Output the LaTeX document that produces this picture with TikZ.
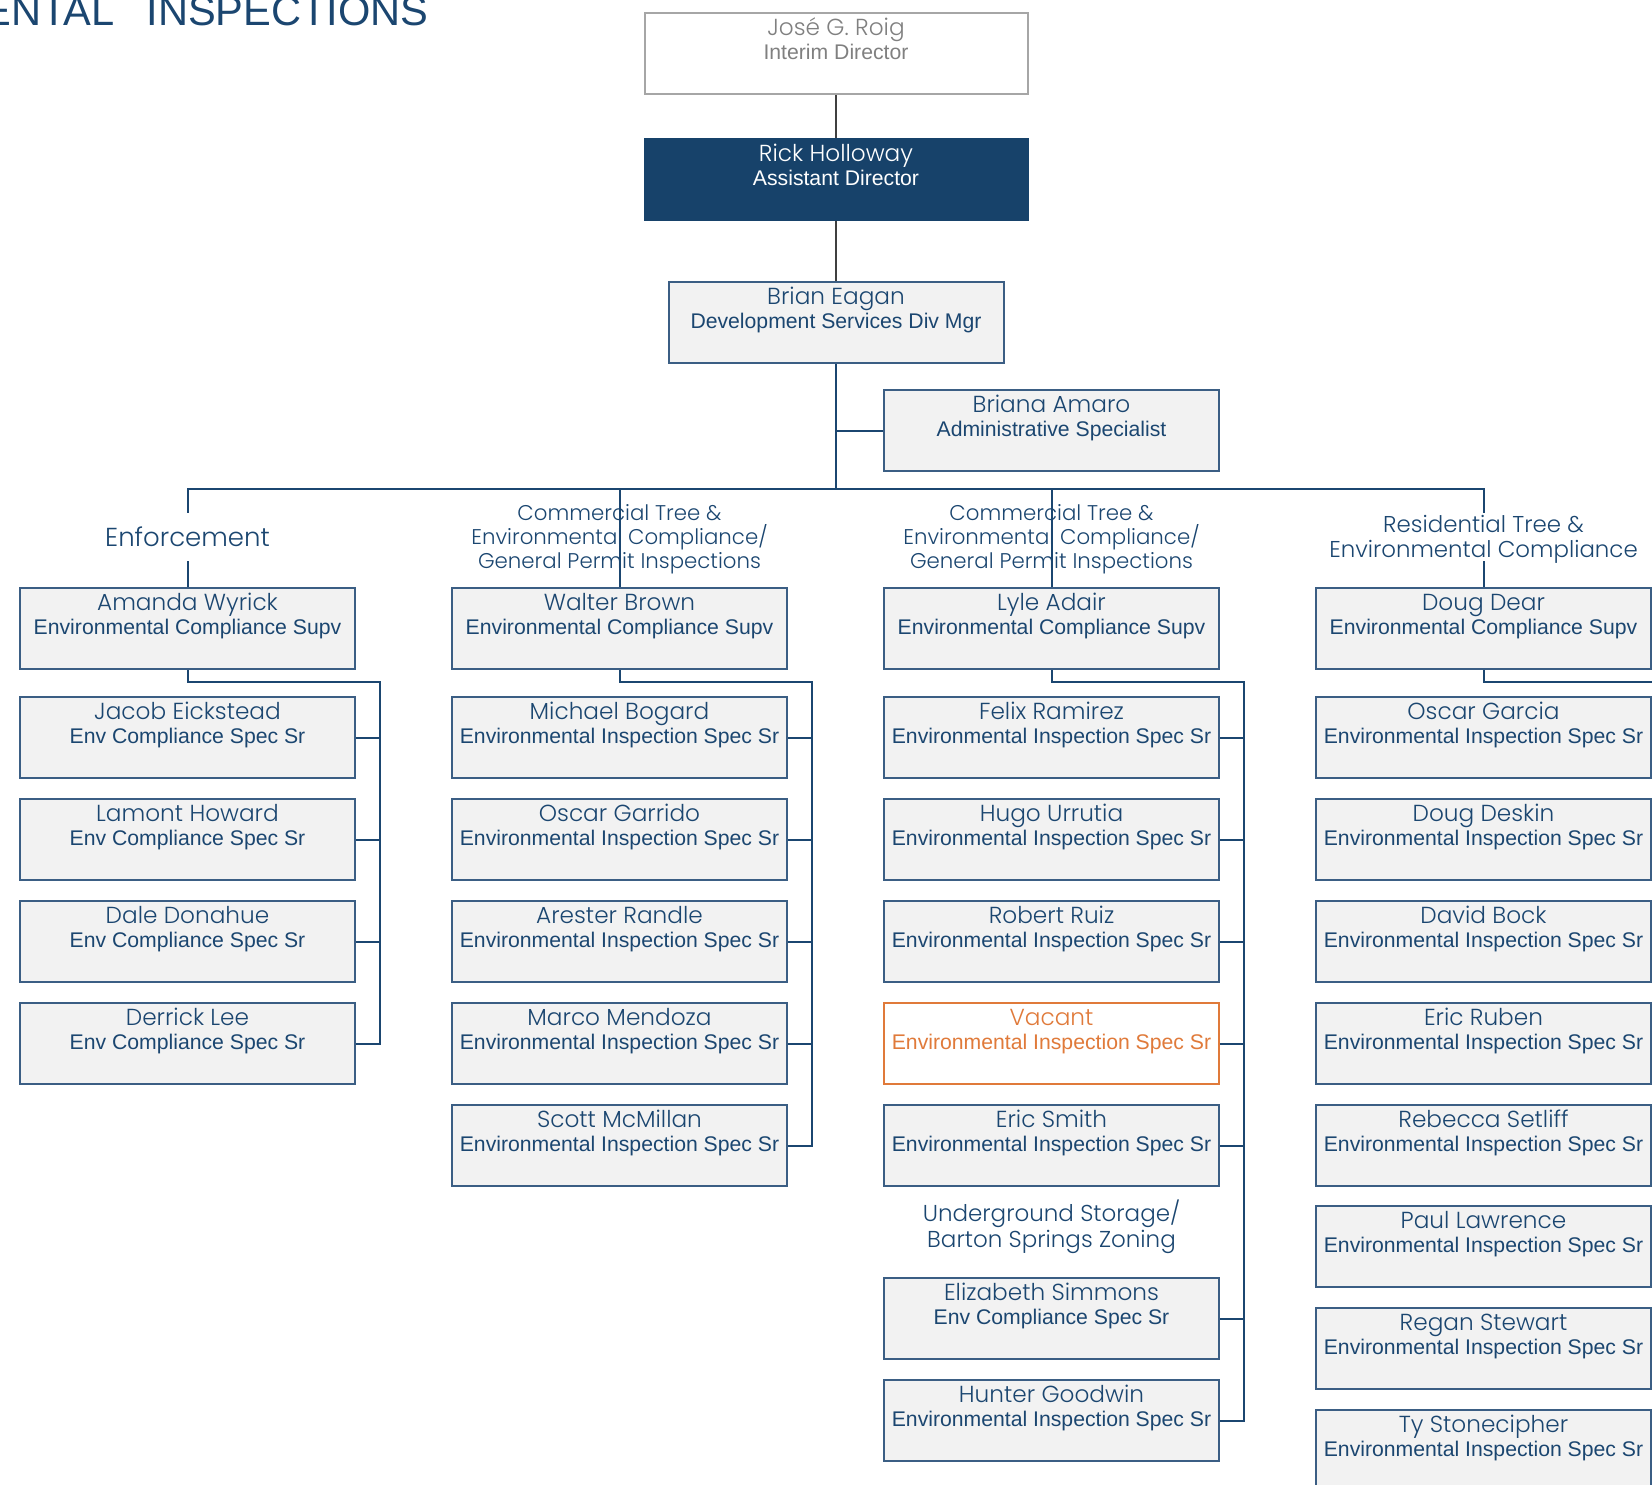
\documentclass[tikz,border=0pt]{standalone}
\usepackage{fontspec}
\setmainfont{Liberation Sans}
\newfontfamily\namefont{Poppins Light}
\usetikzlibrary{positioning,calc}
\definecolor{citynavy}{HTML}{1B4670}
\definecolor{boxline}{HTML}{3B5E84}
\definecolor{boxfill}{HTML}{F2F2F2}
\definecolor{rickblue}{HTML}{17426A}
\definecolor{josegray}{HTML}{A6A6A6}
\definecolor{josetext}{HTML}{808080}
\definecolor{vacantorange}{HTML}{E07A3A}
\definecolor{uppergray}{HTML}{404040}
\newcommand{\who}[1]{{\namefont\fontsize{11.6}{12}\selectfont #1}}

\begin{document}
\begin{tikzpicture}[x=0.5pt, y=-0.5pt,
    person/.style={rectangle, draw=boxline, fill=boxfill, text=citynavy, line width=1pt,
                   minimum width=167.5pt, inner xsep=0pt, inner ysep=0pt,
                   text height=23pt, text depth=17.5pt, anchor=north, align=center,
                   font=\fontsize{10.6}{12}\selectfont},
    leader/.style={person, minimum width=191.5pt},
    vacant/.style={person, draw=vacantorange, fill=white, text=vacantorange},
    group/.style={align=center, text=citynavy, inner sep=0pt, anchor=base},
    link/.style={draw=citynavy, line width=1pt},
    upper/.style={draw=uppergray, line width=0.8pt}
]
    \useasboundingbox (0,0) rectangle (1652,1484);

    % Heading
    \node[text=citynavy, font=\fontsize{20.8}{24}\selectfont, anchor=base east, inner sep=0pt] (heading) at (429,25) {ENTAL\hspace{16pt}INSPECTIONS};

    % Directors
    \node[leader, draw=josegray, fill=white, text=josetext] (jose) at (836,12) {\who{José G. Roig}\\Interim Director};
    \node[leader, draw=rickblue, fill=rickblue, text=white] (rick) at (836,138) {\who{Rick Holloway}\\Assistant Director};
    \node[person] (brian) at (836,281) {\who{Brian Eagan}\\Development Services Div Mgr};
    \node[person] (briana) at (1051.5,389) {\who{Briana Amaro}\\Administrative Specialist};
    \coordinate (bus) at (836,489);

    % Group labels
    \node[group, font=\namefont\fontsize{13}{14}\selectfont, text height=16.5pt, text depth=7.5pt] (enforce) at (187.5,546) {Enforcement};
    \node[group, font=\namefont\fontsize{10.65}{12}\selectfont] (commA) at (619.5,568) {Commercial Tree \&\\Environmental Compliance/\\General Permit Inspections};
    \node[group, font=\namefont\fontsize{10.65}{12}\selectfont] (commB) at (1051.5,568) {Commercial Tree \&\\Environmental Compliance/\\General Permit Inspections};
    \node[group, font=\namefont\fontsize{11.45}{12.5}\selectfont, text height=22pt, text depth=2pt] (resid) at (1483.5,557) {Residential Tree \&\\Environmental Compliance};

    % Enforcement
    \node[person] (amanda) at (187.5,587) {\who{Amanda Wyrick}\\Environmental Compliance Supv};
    \node[person] (jacob) at (187.5,696) {\who{Jacob Eickstead}\\Env Compliance Spec Sr};
    \node[person] (lamont) at (187.5,798) {\who{Lamont Howard}\\Env Compliance Spec Sr};
    \node[person] (dale) at (187.5,900) {\who{Dale Donahue}\\Env Compliance Spec Sr};
    \node[person] (derrick) at (187.5,1002) {\who{Derrick Lee}\\Env Compliance Spec Sr};

    % Commercial (Walter Brown)
    \node[person] (walter) at (619.5,587) {\who{Walter Brown}\\Environmental Compliance Supv};
    \node[person] (michael) at (619.5,696) {\who{Michael Bogard}\\Environmental Inspection Spec Sr};
    \node[person] (garrido) at (619.5,798) {\who{Oscar Garrido}\\Environmental Inspection Spec Sr};
    \node[person] (arester) at (619.5,900) {\who{Arester Randle}\\Environmental Inspection Spec Sr};
    \node[person] (marco) at (619.5,1002) {\who{Marco Mendoza}\\Environmental Inspection Spec Sr};
    \node[person] (scott) at (619.5,1104) {\who{Scott McMillan}\\Environmental Inspection Spec Sr};

    % Commercial (Lyle Adair)
    \node[person] (lyle) at (1051.5,587) {\who{Lyle Adair}\\Environmental Compliance Supv};
    \node[person] (felix) at (1051.5,696) {\who{Felix Ramirez}\\Environmental Inspection Spec Sr};
    \node[person] (hugo) at (1051.5,798) {\who{Hugo Urrutia}\\Environmental Inspection Spec Sr};
    \node[person] (robert) at (1051.5,900) {\who{Robert Ruiz}\\Environmental Inspection Spec Sr};
    \node[vacant] (vacant) at (1051.5,1002) {\who{Vacant}\\Environmental Inspection Spec Sr};
    \node[person] (ericsmith) at (1051.5,1104) {\who{Eric Smith}\\Environmental Inspection Spec Sr};
    \node[group, font=\namefont\fontsize{11.5}{13}\selectfont] (ust) at (1051.5,1247) {Underground Storage/\\Barton Springs Zoning};
    \node[person] (elizabeth) at (1051.5,1277) {\who{Elizabeth Simmons}\\Env Compliance Spec Sr};
    \node[person] (hunter) at (1051.5,1379) {\who{Hunter Goodwin}\\Environmental Inspection Spec Sr};

    % Residential
    \node[person] (doug) at (1483.5,587) {\who{Doug Dear}\\Environmental Compliance Supv};
    \node[person] (garcia) at (1483.5,696) {\who{Oscar Garcia}\\Environmental Inspection Spec Sr};
    \node[person] (deskin) at (1483.5,798) {\who{Doug Deskin}\\Environmental Inspection Spec Sr};
    \node[person] (david) at (1483.5,900) {\who{David Bock}\\Environmental Inspection Spec Sr};
    \node[person] (ruben) at (1483.5,1002) {\who{Eric Ruben}\\Environmental Inspection Spec Sr};
    \node[person] (rebecca) at (1483.5,1104) {\who{Rebecca Setliff}\\Environmental Inspection Spec Sr};
    \node[person] (paul) at (1483.5,1205) {\who{Paul Lawrence}\\Environmental Inspection Spec Sr};
    \node[person] (regan) at (1483.5,1307) {\who{Regan Stewart}\\Environmental Inspection Spec Sr};
    \node[person] (ty) at (1483.5,1409) {\who{Ty Stonecipher}\\Environmental Inspection Spec Sr};

    % Connections
    \draw[upper] (jose) -- (rick);
    \draw[upper] (rick) -- (brian);
    \draw[link] (brian.south) -- (bus);
    \draw[link] (briana.west) -- (briana.west -| bus);
    \draw[link] (enforce.north) |- (resid.north |- bus) -- (resid.north);
    \draw[link] (enforce.south) -- (amanda.north);
    \draw[link] (resid.south) -- (doug.north);
    \draw[link] (walter.north) -- (walter.north |- bus);
    \draw[link] (lyle.north) -- (lyle.north |- bus);

    \draw[link] (amanda.south) -- ++(0,12) -| ([xshift=12pt]derrick.east) -- (derrick.east);
    \draw[link] (jacob.east) -- ++(24,0);
    \draw[link] (lamont.east) -- ++(24,0);
    \draw[link] (dale.east) -- ++(24,0);

    \draw[link] (walter.south) -- ++(0,12) -| ([xshift=12pt]scott.east) -- (scott.east);
    \draw[link] (michael.east) -- ++(24,0);
    \draw[link] (garrido.east) -- ++(24,0);
    \draw[link] (arester.east) -- ++(24,0);
    \draw[link] (marco.east) -- ++(24,0);

    \draw[link] (lyle.south) -- ++(0,12) -| ([xshift=12pt]hunter.east) -- (hunter.east);
    \draw[link] (felix.east) -- ++(24,0);
    \draw[link] (hugo.east) -- ++(24,0);
    \draw[link] (robert.east) -- ++(24,0);
    \draw[link] (vacant.east) -- ++(24,0);
    \draw[link] (ericsmith.east) -- ++(24,0);
    \draw[link] (elizabeth.east) -- ++(24,0);

    \draw[link] (doug.south) -- ++(0,12) -| ([xshift=12pt]ty.east) -- (ty.east);
\end{tikzpicture}
\end{document}
